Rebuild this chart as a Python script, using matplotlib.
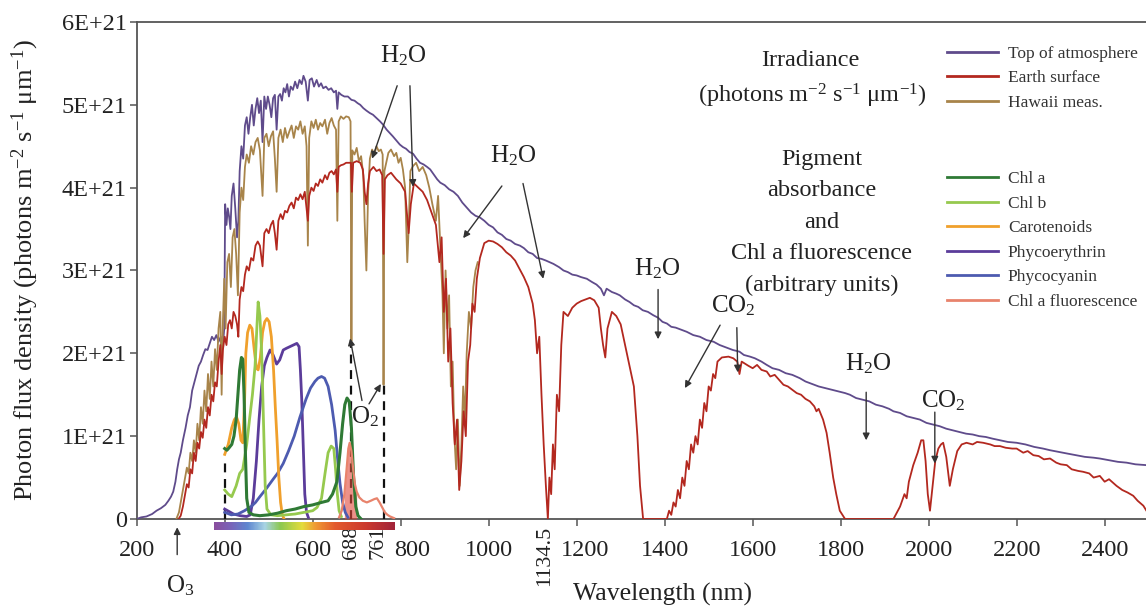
import numpy as np
import matplotlib
matplotlib.use("Agg")
import matplotlib.pyplot as plt
import matplotlib.transforms as mtransforms
from matplotlib.colors import LinearSegmentedColormap

plt.rcParams['font.family'] = ['Liberation Serif', 'DejaVu Serif']
plt.rcParams['mathtext.fontset'] = 'custom'
plt.rcParams['mathtext.rm'] = 'Liberation Serif'
plt.rcParams['mathtext.it'] = 'Liberation Serif:italic'

# irradiance spectra, values in units of 1E+21 photons m-2 s-1 um-1
TOA_NM = [200, 210, 222, 235, 245, 255, 265, 272, 278, 283, 288, 292, 296, 300, 305, 311, 316, 321,
          326, 331, 336, 341, 346, 351, 356, 361, 366, 371, 376, 381, 386, 391, 395, 399, 401, 404,
          407, 410, 413, 416, 420, 424, 428, 431, 434, 438, 442, 446, 450, 454, 458, 462, 466, 470,
          474, 478, 482, 486, 490, 494, 498, 502, 506, 510, 514, 518, 522, 526, 530, 534, 538, 542,
          546, 550, 555, 560, 565, 570, 575, 579, 584, 589, 593, 598, 603, 609, 614, 619, 624, 630,
          636, 642, 648, 653, 656, 659, 665, 672, 680, 688, 695, 702, 708, 715, 722, 730, 737, 745,
          753, 760, 768, 775, 782, 790, 798, 805, 812, 820, 828, 836, 844, 852, 860, 867, 875, 883,
          890, 900, 910, 920, 930, 940, 950, 960, 970, 980, 990, 1000, 1010, 1020, 1030, 1040, 1050,
          1060, 1071, 1080, 1090, 1100, 1110, 1120, 1130, 1147, 1160, 1170, 1180, 1190, 1200, 1210,
          1223, 1235, 1245, 1255, 1262, 1268, 1280, 1290, 1298, 1310, 1320, 1330, 1340, 1350, 1362,
          1374, 1385, 1395, 1405, 1415, 1425, 1435, 1450, 1465, 1480, 1495, 1511, 1525, 1540, 1555,
          1570, 1580, 1594, 1605, 1620, 1632, 1645, 1660, 1675, 1690, 1707, 1720, 1735, 1750, 1765,
          1780, 1795, 1810, 1821, 1835, 1850, 1865, 1880, 1895, 1910, 1920, 1935, 1950, 1965, 1980,
          1995, 2010, 2025, 2040, 2055, 2070, 2085, 2100, 2115, 2130, 2145, 2162, 2180, 2200, 2220,
          2240, 2260, 2276, 2295, 2315, 2335, 2355, 2375, 2389, 2410, 2430, 2450, 2470, 2495]
TOA_VAL = [0.0, 0.02, 0.03, 0.06, 0.1, 0.13, 0.17, 0.22, 0.27, 0.33, 0.45, 0.6, 0.72, 0.8, 0.95, 1.1,
           1.25, 1.35, 1.55, 1.65, 1.75, 1.85, 1.9, 1.98, 2.05, 2.04, 2.12, 2.2, 2.16, 2.22, 2.14, 2.2,
           2.05, 2.3, 3.8, 3.55, 3.75, 3.65, 3.5, 3.9, 4.05, 3.75, 3.4, 3.6, 4.2, 4.5, 4.35, 4.75, 4.85,
           4.65, 4.85, 5.0, 4.75, 4.95, 5.08, 4.9, 5.05, 4.55, 5.1, 4.95, 5.1, 5.0, 4.85, 5.08, 5.12,
           4.7, 5.1, 5.13, 5.05, 5.2, 5.15, 5.25, 5.1, 5.22, 5.18, 5.28, 5.2, 5.3, 5.25, 5.35, 5.28,
           5.05, 5.3, 5.32, 5.22, 5.3, 5.22, 5.26, 5.2, 5.22, 5.18, 5.2, 5.15, 5.17, 4.95, 5.15, 5.12,
           5.1, 5.1, 5.06, 5.05, 5.02, 5.0, 4.96, 4.93, 4.9, 4.88, 4.84, 4.8, 4.76, 4.7, 4.66, 4.62,
           4.57, 4.52, 4.49, 4.47, 4.43, 4.41, 4.35, 4.3, 4.28, 4.25, 4.22, 4.16, 4.1, 4.06, 4.03, 3.98,
           3.95, 3.9, 3.82, 3.76, 3.7, 3.66, 3.64, 3.6, 3.55, 3.52, 3.46, 3.43, 3.38, 3.36, 3.32, 3.3,
           3.27, 3.22, 3.2, 3.15, 3.14, 3.12, 3.08, 3.04, 3.0, 2.98, 2.95, 2.94, 2.92, 2.9, 2.86, 2.83,
           2.78, 2.7, 2.78, 2.74, 2.72, 2.7, 2.65, 2.62, 2.58, 2.56, 2.52, 2.5, 2.46, 2.43, 2.38, 2.36,
           2.32, 2.31, 2.29, 2.26, 2.22, 2.2, 2.16, 2.14, 2.1, 2.07, 2.04, 2.02, 1.98, 1.96, 1.94, 1.9,
           1.86, 1.82, 1.8, 1.76, 1.74, 1.7, 1.66, 1.63, 1.6, 1.58, 1.56, 1.54, 1.52, 1.5, 1.46, 1.44,
           1.42, 1.38, 1.36, 1.33, 1.3, 1.28, 1.24, 1.22, 1.2, 1.16, 1.14, 1.12, 1.09, 1.07, 1.05, 1.03,
           1.02, 1.0, 0.99, 0.97, 0.95, 0.93, 0.92, 0.9, 0.87, 0.85, 0.83, 0.81, 0.79, 0.77, 0.75, 0.74,
           0.73, 0.71, 0.69, 0.68, 0.66, 0.65]

HAWAII_NM = [290, 296, 300, 305, 310, 314, 318, 322, 326, 330, 334, 338, 342, 346, 350, 354, 358, 362,
             366, 370, 374, 378, 382, 386, 390, 393, 396, 399, 402, 406, 410, 414, 418, 422, 426, 430,
             434, 438, 442, 446, 450, 455, 460, 465, 470, 475, 480, 486, 490, 495, 500, 505, 510, 514,
             518, 522, 527, 532, 537, 542, 547, 552, 557, 562, 567, 572, 577, 582, 586, 589, 592, 597,
             602, 607, 612, 617, 622, 628, 633, 638, 643, 648, 653, 656, 659, 664, 670, 676, 682, 686,
             688, 690, 695, 700, 705, 710, 715, 718, 722, 726, 730, 735, 740, 745, 750, 755, 759, 761,
             763, 768, 772, 778, 785, 790, 795, 800, 805, 810, 815, 818, 822, 828, 835, 842, 850, 858,
             865, 872, 880, 885, 890, 895, 898, 902, 906, 910, 914, 918, 922, 926, 930, 934, 938, 942,
             946, 950, 955, 960, 965, 970, 975]
HAWAII_VAL = [0.0, 0.08, 0.2, 0.35, 0.5, 0.62, 0.55, 0.8, 0.7, 0.95, 0.8, 1.15, 0.95, 1.35, 1.15, 1.55,
              1.3, 1.75, 1.45, 1.9, 1.6, 2.05, 1.8, 2.3, 2.5, 1.5, 2.4, 2.9, 2.3, 3.1, 3.2, 2.8, 3.4, 3.5,
              3.2, 2.7, 3.7, 4.0, 3.85, 4.25, 4.4, 4.3, 4.5, 4.4, 4.55, 4.6, 4.45, 3.9, 4.6, 4.65, 4.5,
              4.62, 4.68, 4.35, 3.95, 4.6, 4.7, 4.55, 4.72, 4.6, 4.68, 4.75, 4.6, 4.74, 4.7, 4.8, 4.65,
              4.74, 4.5, 3.3, 4.6, 4.8, 4.72, 4.82, 4.7, 4.78, 4.74, 4.82, 4.65, 4.78, 4.84, 4.75, 4.7,
              3.6, 4.8, 4.86, 4.83, 4.86, 4.85, 4.8, 2.15, 4.45, 4.4, 4.48, 4.32, 4.38, 4.15, 3.6, 3.0,
              3.95, 4.35, 4.46, 4.4, 4.5, 4.44, 4.46, 4.4, 1.62, 4.2, 4.32, 4.42, 4.46, 4.38, 4.42, 4.3,
              4.36, 4.22, 4.0, 3.1, 3.5, 4.2, 4.26, 4.3, 4.2, 4.25, 4.15, 4.0, 3.8, 3.6, 3.9, 3.3, 2.7,
              2.0, 3.0, 2.3, 2.7, 1.6, 1.9, 1.0, 0.6, 1.2, 0.4, 0.9, 1.6, 1.2, 2.0, 2.5, 2.3, 2.8, 3.0,
              3.1]

EARTH_NM = [295, 300, 305, 310, 314, 318, 322, 326, 330, 334, 338, 342, 346, 350, 354, 358, 362, 366,
            370, 374, 378, 382, 386, 390, 393, 396, 400, 404, 408, 412, 416, 420, 424, 428, 431, 434,
            438, 442, 446, 450, 455, 460, 465, 470, 475, 480, 486, 490, 495, 500, 505, 510, 514, 518,
            522, 527, 532, 537, 542, 547, 552, 557, 562, 567, 572, 577, 582, 589, 592, 597, 602, 607,
            612, 617, 622, 628, 633, 638, 643, 648, 653, 656, 659, 664, 670, 676, 682, 687, 689, 692,
            700, 708, 714, 718, 722, 726, 730, 738, 745, 752, 758, 761, 764, 770, 778,
            790, 800, 810, 818, 823, 830, 840, 850, 860, 870, 880, 888, 893, 898, 903, 908, 913, 918,
            923, 928, 933, 938, 943, 948, 953, 958, 963, 968, 973, 980, 990, 1000, 1010, 1020, 1030,
            1040, 1050, 1060, 1070, 1080, 1090, 1100, 1105, 1110, 1115, 1120, 1125, 1130, 1134.5, 1138,
            1142, 1146, 1150, 1155, 1160, 1165, 1170, 1180, 1190, 1200, 1210, 1220, 1230, 1240, 1250,
            1255, 1260, 1265, 1270, 1280, 1290, 1300, 1310, 1320, 1330, 1338, 1344, 1351, 1405, 1410,
            1415, 1420, 1425, 1430, 1435, 1440, 1445, 1450, 1455, 1460, 1465, 1470, 1475, 1480, 1485,
            1490, 1495, 1500, 1505, 1510, 1515, 1520, 1530, 1545, 1556, 1565, 1570, 1575, 1590, 1600,
            1610, 1620, 1632, 1640, 1650, 1660, 1670, 1680, 1690, 1700, 1710, 1720, 1730, 1740, 1745,
            1750, 1760, 1768, 1775, 1783, 1790, 1798, 1810, 1920, 1935, 1945, 1950, 1955, 1960, 1965,
            1975, 1983, 1988, 1993, 1998, 2003, 2008, 2015, 2022, 2028, 2033, 2040, 2048, 2055, 2065,
            2075, 2086, 2100, 2110, 2124, 2140, 2150, 2162, 2175, 2190, 2200, 2215, 2225, 2238, 2250,
            2262, 2276, 2290, 2300, 2314, 2325, 2340, 2351, 2365, 2375, 2389, 2400, 2410, 2427, 2440,
            2452, 2465, 2475, 2488, 2495]
EARTH_VAL = [0.0, 0.04, 0.15, 0.3, 0.42, 0.38, 0.6, 0.55, 0.8, 0.7, 0.92, 0.85, 1.05, 0.98, 1.2, 1.1,
             1.35, 1.25, 1.5, 1.42, 1.65, 1.6, 1.9, 2.1, 1.75, 2.05, 2.2, 2.1, 2.35, 2.4, 2.3, 2.5, 2.45,
             2.35, 2.2, 2.65, 2.8, 2.75, 2.95, 3.05, 3.0, 3.15, 3.12, 3.3, 3.35, 3.3, 3.05, 3.45, 3.5,
             3.45, 3.55, 3.6, 3.45, 3.25, 3.6, 3.68, 3.62, 3.72, 3.7, 3.78, 3.82, 3.75, 3.88, 3.85, 3.92,
             3.86, 3.95, 3.6, 3.9, 4.0, 3.96, 4.05, 4.02, 4.1, 4.06, 4.15, 4.1, 4.18, 4.2, 4.16, 4.22,
             3.95, 4.25, 4.27, 4.28, 4.3, 4.3, 4.3, 3.95, 4.3, 4.32, 4.3, 4.22, 3.95, 3.8, 4.05, 4.2,
             4.25, 4.2, 4.22, 4.15, 3.2, 4.1, 4.15, 4.18,
             4.1, 4.05, 3.95, 3.45, 3.8, 4.05, 4.0, 3.95, 3.85, 3.7, 3.55, 3.1, 3.4, 2.5, 2.9, 1.9, 2.3,
             1.4, 0.9, 1.2, 0.35, 0.7, 1.3, 1.0, 1.9, 2.1, 2.6, 2.5, 2.9, 3.15, 3.33, 3.36, 3.35, 3.32,
             3.28, 3.22, 3.18, 3.12, 3.02, 2.92, 2.8, 2.6, 2.4, 2.0, 2.2, 1.5, 0.9, 0.4, 0.0, 0.5, 0.3,
             0.9, 0.6, 1.5, 1.3, 2.1, 2.5, 2.45, 2.55, 2.6, 2.63, 2.65, 2.67, 2.64, 2.55, 2.3, 2.1, 1.95,
             2.3, 2.5, 2.45, 2.35, 2.1, 1.85, 1.6, 1.0, 0.4, 0.0, 0.0, 0.1, 0.05, 0.2, 0.15, 0.35, 0.25,
             0.5, 0.4, 0.7, 0.6, 0.9, 0.8, 1.0, 0.9, 1.2, 1.1, 1.4, 1.3, 1.6, 1.55, 1.75, 1.7, 1.9, 1.95,
             1.96, 1.94, 1.9, 1.75, 1.9, 1.85, 1.82, 1.86, 1.8, 1.78, 1.72, 1.74, 1.68, 1.62, 1.6, 1.56,
             1.52, 1.5, 1.45, 1.42, 1.36, 1.3, 1.33, 1.2, 1.04, 0.8, 0.5, 0.3, 0.1, 0.0, 0.0, 0.15, 0.3,
             0.25, 0.45, 0.55, 0.65, 0.8, 0.95, 0.95, 0.7, 0.3, 0.1, 0.35, 0.7, 0.85, 0.9, 0.92, 0.75,
             0.4, 0.6, 0.82, 0.9, 0.92, 0.9, 0.93, 0.92, 0.9, 0.88, 0.88, 0.86, 0.85, 0.85, 0.8, 0.82,
             0.77, 0.76, 0.72, 0.73, 0.68, 0.66, 0.65, 0.6, 0.58, 0.57, 0.55, 0.5, 0.52, 0.45, 0.48, 0.4,
             0.35, 0.32, 0.28, 0.22, 0.16, 0.1]

# pigment absorbance / fluorescence (arbitrary units, drawn on the same scale)
CHLA_NM = [400, 405, 410, 416, 421, 426, 430, 434, 438, 441, 444, 447, 450, 455, 465, 480, 500, 520,
           540, 560, 580, 600, 620, 635, 645, 655, 662, 668, 673, 678, 683, 688, 693, 698, 703, 710]
CHLA_VAL = [0.85, 0.83, 0.86, 0.9, 1.0, 1.2, 1.5, 1.8, 1.95, 1.93, 1.5, 0.8, 0.25, 0.08, 0.05, 0.04,
            0.05, 0.07, 0.1, 0.12, 0.15, 0.17, 0.2, 0.22, 0.3, 0.45, 0.8, 1.15, 1.38, 1.46, 1.42, 1.1,
            0.5, 0.15, 0.04, 0.0]
CHLB_NM = [400, 408, 416, 426, 434, 441, 450, 457, 463, 469, 473, 476, 480, 484, 488, 492, 496, 505,
           520, 540, 560, 580, 600, 610, 620, 628, 635, 642, 648, 652, 656, 660, 665]
CHLB_VAL = [0.35, 0.3, 0.27, 0.4, 0.55, 0.6, 0.9, 1.23, 1.5, 1.85, 2.3, 2.62, 2.45, 2.0, 1.2, 0.4, 0.12,
            0.05, 0.04, 0.05, 0.06, 0.08, 0.1, 0.14, 0.25, 0.55, 0.8, 0.88, 0.85, 0.6, 0.3, 0.1, 0.03]
CARO_NM = [400, 408, 416, 422, 427, 432, 437, 441, 445, 448, 452, 457, 462, 467, 472, 476, 481, 486,
           491, 496, 501, 506, 511, 515, 519, 523, 527, 531, 535]
CARO_VAL = [0.78, 0.9, 1.1, 1.2, 1.23, 1.15, 0.95, 0.92, 1.4, 2.0, 2.25, 2.34, 2.3, 2.05, 1.82, 1.8,
            1.95, 2.25, 2.38, 2.42, 2.38, 2.2, 1.8, 1.35, 0.95, 0.5, 0.2, 0.05, 0.0]
PE_NM = [400, 410, 420, 435, 450, 458, 465, 472, 478, 484, 490, 496, 503, 510, 518, 525, 533, 540, 548,
         556, 564, 569, 572, 575, 579, 582, 586, 590]
PE_VAL = [0.12, 0.09, 0.06, 0.04, 0.03, 0.05, 0.25, 0.7, 1.2, 1.6, 1.85, 1.95, 2.04, 1.98, 1.87, 1.92,
          2.04, 2.06, 2.08, 2.1, 2.12, 2.08, 1.8, 1.45, 0.8, 0.3, 0.08, 0.02]
PC_NM = [400, 415, 430, 445, 460, 470, 480, 495, 510, 520, 533, 545, 558, 571, 585, 595, 605, 612, 620,
         627, 635, 643, 651, 657, 662, 668, 674, 680]
PC_VAL = [0.08, 0.05, 0.06, 0.1, 0.15, 0.2, 0.27, 0.37, 0.48, 0.55, 0.67, 0.82, 1.0, 1.23, 1.45, 1.58,
          1.66, 1.7, 1.72, 1.7, 1.6, 1.38, 1.07, 0.7, 0.43, 0.2, 0.08, 0.02]
FLUO_NM = [660, 666, 672, 677, 681, 684, 688, 692, 696, 700, 706, 714, 723, 732, 740, 746, 752, 758,
           764, 770, 776, 785]
FLUO_VAL = [0.02, 0.1, 0.3, 0.6, 0.85, 0.92, 0.82, 0.6, 0.42, 0.33, 0.26, 0.22, 0.2, 0.22, 0.24, 0.25,
            0.2, 0.14, 0.08, 0.05, 0.03, 0.01]

# O2 / window markers (dashed) and special wavelength ticks
DASH_NM = [400, 688, 761]
DASH_TOP = [0.72, 2.15, 1.62]
MAJOR_TICKS = [200, 400, 600, 800, 1000, 1200, 1400, 1600, 1800, 2000, 2200, 2400]
SPECIAL_NM = [688, 761, 1134.5]
SPECIAL_LABELS = ['688', '761', '1134.5']
Y_TICKS = [0, 1, 2, 3, 4, 5, 6]

# visible spectrum strip under the axis
SPECTRUM_NM = [375, 410, 450, 490, 525, 575, 605, 650, 720, 785]
SPECTRUM_HEX = ['#8a4f9e', '#7a62b8', '#5f86d0', '#a8d4e4', '#8cc850', '#e4dc3c', '#ef9a34',
                '#e35a2e', '#cc3a2e', '#a2243a']

C_TOA = '#5f4b8b'
C_EARTH = '#b3281f'
C_HAWAII = '#a8844a'
TXT = '#222222'

fig = plt.figure(figsize=(11.46, 6.10), dpi=100)
ax = fig.add_axes([0.1193, 0.1492, 0.8807, 0.8148])

l_toa, = ax.plot(TOA_NM, TOA_VAL, color=C_TOA, lw=1.3, zorder=3)
l_haw, = ax.plot(HAWAII_NM, HAWAII_VAL, color=C_HAWAII, lw=1.3, zorder=3)
l_earth, = ax.plot(EARTH_NM, EARTH_VAL, color=C_EARTH, lw=1.3, zorder=4)

ax.vlines(DASH_NM, 0, DASH_TOP, colors='#111111', linestyles=(0, (4, 3)), lw=1.6, zorder=5)

fl = np.array(FLUO_NM)
ax.fill_between(FLUO_NM, FLUO_VAL, where=(fl >= 668) & (fl <= 700), color='#e0483a',
                alpha=0.6, lw=0, zorder=5)
l_pe, = ax.plot(PE_NM, PE_VAL, color='#5b3c9a', lw=2.0, zorder=6)
l_pc, = ax.plot(PC_NM, PC_VAL, color='#4d5bb0', lw=2.0, zorder=6)
l_caro, = ax.plot(CARO_NM, CARO_VAL, color='#f0a02c', lw=2.0, zorder=6)
l_chlb, = ax.plot(CHLB_NM, CHLB_VAL, color='#96c94e', lw=2.0, zorder=6)
l_chla, = ax.plot(CHLA_NM, CHLA_VAL, color='#2f7a35', lw=2.2, zorder=7)
l_fl, = ax.plot(FLUO_NM, FLUO_VAL, color='#e8836c', lw=1.6, zorder=7)

ax.set_xlim(200, 2494)
ax.set_ylim(0, 6)

# axes styling
for side in ['left', 'bottom', 'top']:
    ax.spines[side].set_color('#555555')
    ax.spines[side].set_linewidth(1.3)
ax.spines['right'].set_visible(False)

ax.set_yticks(Y_TICKS)
ax.set_yticklabels(['0' if v == 0 else '%dE+21' % v for v in Y_TICKS])
ax.set_xticks(MAJOR_TICKS)
ax.set_xticks(SPECIAL_NM, labels=SPECIAL_LABELS, minor=True)
ax.tick_params(axis='both', which='major', labelsize=17.5, length=5, width=1.1, color='#555555',
               labelcolor=TXT)
ax.tick_params(axis='x', which='major', pad=10)
ax.tick_params(axis='y', which='major', pad=2)
ax.tick_params(axis='x', which='minor', labelsize=16, length=0, labelrotation=90,
               labelcolor=TXT, pad=5)

# nudge crowded labels apart (pixels); tick objects only learn their location at draw time,
# so pair them with the locator values here
major_shift = {800: 11, 1200: 8}
minor_shift = {761: -6, 1134.5: -3}
for ticks, locs, shifts in [(ax.xaxis.get_major_ticks(), ax.xaxis.get_majorticklocs(), major_shift),
                            (ax.xaxis.get_minor_ticks(), ax.xaxis.get_minorticklocs(), minor_shift)]:
    for t, loc in zip(ticks, locs):
        dx = shifts.get(float(loc))
        if dx:
            off = mtransforms.ScaledTranslation(dx / 100, 0, fig.dpi_scale_trans)
            t.label1.set_transform(t.label1.get_transform() + off)

ax.set_ylabel('Photon flux density (photons m$^{-2}$ s$^{-1}$ \u03bcm$^{-1}$)', fontsize=19,
              color=TXT)
ax.yaxis.set_label_coords(-0.095, 0.5)
ax.set_xlabel('Wavelength (nm)', fontsize=18.5, color=TXT)
ax.xaxis.set_label_coords(0.521, -0.128)

# spectrum strip
pos = [(v - SPECTRUM_NM[0]) / (SPECTRUM_NM[-1] - SPECTRUM_NM[0]) for v in SPECTRUM_NM]
cmap = LinearSegmentedColormap.from_list('vis', list(zip(pos, SPECTRUM_HEX)))
bar = ax.inset_axes([SPECTRUM_NM[0], -0.135, SPECTRUM_NM[-1] - SPECTRUM_NM[0], 0.1],
                    transform=ax.transData)
bar.imshow(np.linspace(0, 1, 300)[None, :], aspect='auto', cmap=cmap)
bar.axis('off')

# gas absorption labels
ann_color = '#333333'
labels = [
    ('H$_2$O', (805, 5.59), [((792, 5.23), (735, 4.35)), ((821, 5.23), (828, 4.01))]),
    ('H$_2$O', (1055, 4.39), [((1030, 4.02), (942, 3.39)), ((1078, 4.05), (1124, 2.90))]),
    ('H$_2$O', (1383, 3.02), [((1385, 2.77), (1385, 2.17))]),
    ('CO$_2$', (1555, 2.58), [((1526, 2.34), (1446, 1.58)), ((1564, 2.31), (1566, 1.77))]),
    ('H$_2$O', (1862, 1.88), [((1858, 1.53), (1858, 0.95))]),
    ('CO$_2$', (2033, 1.43), [((2014, 1.29), (2014, 0.67))]),
    ('O$_2$', (719, 1.23), [((712, 1.43), (685, 2.18)), ((728, 1.39), (755, 1.63))]),
    ('O$_3$', (298, -0.80), [((292, -0.43), (292, -0.10))]),
]
for txt, xy, arrows in labels:
    ax.text(xy[0], xy[1], txt, fontsize=18, ha='center', va='center', color=TXT,
            zorder=9, clip_on=False)
    for start, tip in arrows:
        ax.annotate('', xy=tip, xytext=start, annotation_clip=False, zorder=9,
                    arrowprops=dict(arrowstyle='-|>', color=ann_color, lw=1.0,
                                    mutation_scale=10, shrinkA=0, shrinkB=0))

# description blocks
ax.text(1730, 5.53, 'Irradiance', fontsize=17.5, ha='center', va='center', color=TXT)
ax.text(1735, 5.11, '(photons m$^{-2}$ s$^{-1}$ \u03bcm$^{-1}$)', fontsize=17.5, ha='center',
        va='center', color=TXT)
ax.text(1757, 3.58, 'Pigment\nabsorbance\nand\nChl a fluorescence\n(arbitrary units)',
        fontsize=17.5, ha='center', va='center', linespacing=1.66, color=TXT)

leg_kw = dict(loc='upper left', frameon=False, fontsize=12.5, handlelength=2.9,
              handletextpad=0.6, labelspacing=0.48, borderpad=0, borderaxespad=0)
leg1 = ax.legend([l_toa, l_earth, l_haw], ['Top of atmosphere', 'Earth surface', 'Hawaii meas.'],
                 bbox_to_anchor=(0.803, 0.952), **leg_kw)
for line in leg1.get_lines():
    line.set_linewidth(2.0)
for t in leg1.get_texts():
    t.set_color('#333333')
ax.add_artist(leg1)
leg2 = ax.legend([l_chla, l_chlb, l_caro, l_pe, l_pc, l_fl],
                 ['Chl a', 'Chl b', 'Carotenoids', 'Phycoerythrin', 'Phycocyanin',
                  'Chl a fluorescence'],
                 bbox_to_anchor=(0.803, 0.700), **leg_kw)
for line in leg2.get_lines():
    line.set_linewidth(2.0)
for t in leg2.get_texts():
    t.set_color('#333333')

fig.savefig('out.png', dpi=100)
